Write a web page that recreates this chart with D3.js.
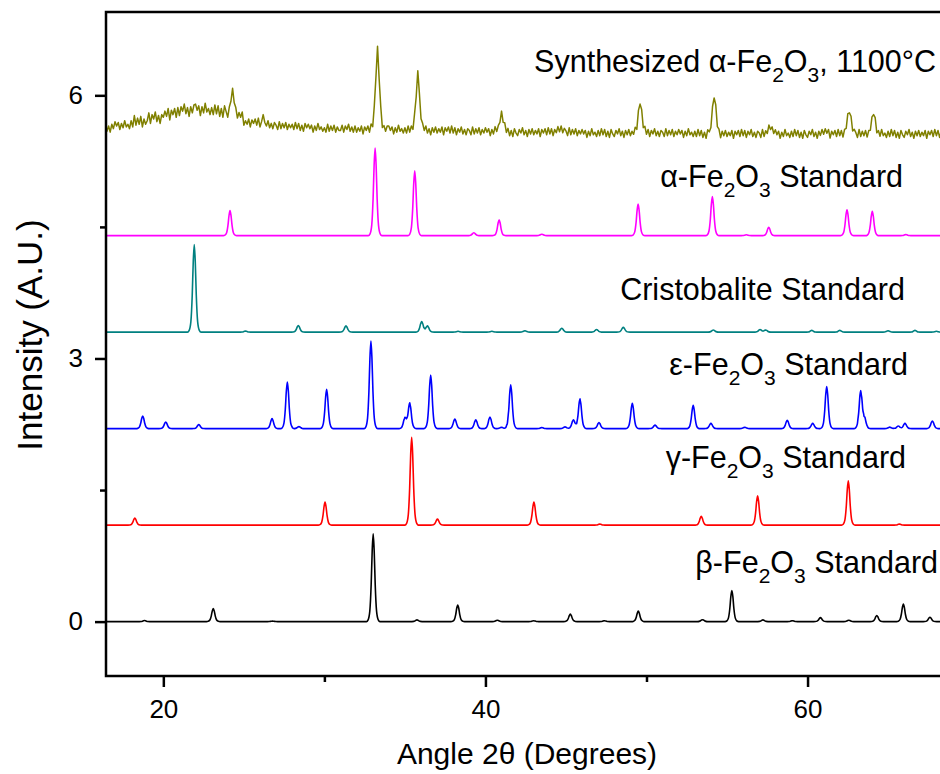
<!DOCTYPE html>
<html>
<head>
<meta charset="utf-8">
<script src="https://cdn.jsdelivr.net/npm/d3@7"></script>
<style>
    body { margin: 0; background: #fff; }
    svg { display: block; font-family: Arial, "Liberation Sans", sans-serif; }
</style>
</head>
<body>
<svg id="chart" width="940" height="774"></svg>
<script>
// axis ranges and ticks
const xDomain = [16.44, 70];
const yDomain = [-0.62, 6.95];
const xTicks = [20, 40, 60];
const xMinorTicks = [30, 50, 70];
const yTicks = [0, 3, 6];
const yMinorTicks = [1.5, 4.5];

// standard patterns: peak positions (2theta) and heights (A.U.) above the baseline
const betaBase = 0;
const betaPos = [18.83, 23.1, 26.78, 33.03, 35.75, 38.28, 40.74, 43.0, 45.27, 47.39, 49.49, 53.48, 55.3, 57.23, 59.06, 60.8, 62.56, 64.3, 65.95, 67.6];
const betaHeight = [0.012, 0.15, 0.006, 1.0, 0.02, 0.19, 0.015, 0.01, 0.085, 0.01, 0.12, 0.022, 0.355, 0.02, 0.01, 0.045, 0.015, 0.07, 0.2, 0.05];

const gammaBase = 1.1;
const gammaPos = [18.23, 30.04, 35.42, 37.02, 43.01, 47.1, 53.4, 56.9, 62.53, 65.7];
const gammaHeight = [0.08, 0.262, 1.0, 0.068, 0.262, 0.012, 0.1, 0.334, 0.505, 0.012];

const epsBase = 2.2;
const epsPos = [18.72, 20.15, 22.2, 26.75, 27.7, 28.42, 30.14, 32.89, 35.0, 35.3, 36.6, 38.1, 39.4, 40.28, 41.0, 41.57, 43.5, 44.94, 45.46, 45.87, 47.05, 49.12, 50.53, 52.9, 54.0, 56.1, 58.74, 60.32, 61.19, 63.3, 63.55, 65.1, 65.63, 66.05, 67.75];
const epsHeight = [0.145, 0.076, 0.046, 0.114, 0.532, 0.023, 0.448, 1.0, 0.12, 0.29, 0.61, 0.11, 0.1, 0.133, 0.015, 0.5, 0.012, 0.02, 0.1, 0.34, 0.07, 0.29, 0.04, 0.265, 0.06, 0.015, 0.095, 0.06, 0.48, 0.425, 0.1, 0.017, 0.03, 0.06, 0.088];

const cristoBase = 3.3;
const cristoPos = [21.92, 25.1, 28.38, 31.34, 36.04, 36.4, 38.3, 40.4, 42.45, 44.74, 46.9, 48.56, 54.15, 57.05, 57.4, 60.26, 62.0, 65.0, 66.67, 68.0];
const cristoHeight = [1.0, 0.012, 0.076, 0.072, 0.12, 0.07, 0.01, 0.01, 0.015, 0.045, 0.03, 0.055, 0.025, 0.03, 0.025, 0.02, 0.02, 0.015, 0.02, 0.01];

const alphaBase = 4.4;
const alphaPos = [24.14, 33.15, 35.61, 39.28, 40.85, 43.5, 49.48, 54.09, 56.2, 57.59, 62.45, 64.02, 66.1];
const alphaHeight = [0.285, 1.0, 0.74, 0.034, 0.18, 0.017, 0.36, 0.445, 0.01, 0.095, 0.296, 0.277, 0.012];

// synthesized sample: measured background every 0.1 deg from 16.0 (hundredths above 5), plus its peaks
const synthStart = 16.0;
const synthStep = 0.1;
const synthBackground = [
    66, 60, 68, 61, 67, 59, 65, 58, 67, 62,
    70, 65, 69, 61, 68, 63, 71, 64, 67, 62,
    71, 64, 77, 66, 74, 67, 76, 64, 73, 67,
    71, 80, 68, 78, 73, 81, 70, 77, 68, 78,
    75, 82, 76, 85, 72, 83, 78, 85, 75, 86,
    77, 87, 82, 90, 79, 86, 76, 87, 80, 89,
    90, 83, 88, 77, 87, 80, 91, 81, 85, 78,
    86, 78, 89, 79, 88, 76, 85, 75, 88, 81,
    73, 80, 76, 82, 74, 79, 72, 80, 75, 81,
    66, 71, 67, 73, 64, 72, 68, 73, 66, 74,
    64, 70, 78, 69, 65, 71, 63, 68, 62, 69,
    66, 61, 70, 62, 68, 63, 69, 61, 67, 63,
    67, 61, 69, 62, 68, 60, 66, 59, 68, 63,
    67, 62, 66, 58, 65, 60, 68, 61, 64, 59,
    63, 58, 67, 59, 65, 60, 66, 58, 64, 60,
    60, 66, 58, 65, 61, 67, 59, 64, 58, 65,
    58, 63, 59, 65, 56, 64, 60, 65, 58, 66,
    57, 64, 60, 66, 58, 63, 56, 64, 59, 65,
    65, 60, 64, 56, 63, 58, 66, 59, 62, 57,
    63, 57, 65, 58, 64, 56, 62, 55, 64, 59,
    56, 63, 59, 65, 57, 62, 55, 63, 58, 64,
    57, 62, 58, 64, 55, 63, 59, 64, 57, 65,
    57, 63, 55, 62, 58, 64, 56, 61, 55, 62,
    60, 55, 64, 56, 62, 57, 63, 55, 61, 57,
    63, 58, 62, 54, 61, 56, 64, 57, 60, 55,
    61, 55, 63, 56, 62, 54, 60, 53, 62, 57,
    54, 61, 57, 63, 55, 60, 53, 61, 56, 62,
    55, 60, 56, 62, 53, 61, 57, 62, 55, 63,
    56, 62, 54, 61, 57, 63, 55, 60, 54, 61,
    59, 54, 63, 55, 61, 56, 62, 54, 60, 56,
    61, 56, 60, 52, 59, 54, 62, 55, 58, 53,
    60, 54, 62, 55, 61, 53, 59, 52, 61, 56,
    53, 60, 56, 62, 54, 59, 52, 60, 55, 61,
    54, 59, 55, 61, 52, 60, 56, 61, 54, 62,
    55, 61, 53, 60, 56, 62, 54, 59, 53, 60,
    58, 53, 62, 54, 60, 55, 61, 53, 59, 55,
    61, 56, 60, 52, 59, 54, 62, 55, 58, 53,
    59, 53, 61, 54, 60, 52, 58, 51, 60, 55,
    52, 59, 55, 61, 53, 58, 51, 59, 54, 60,
    53, 58, 54, 60, 51, 59, 55, 60, 53, 61,
    54, 60, 52, 59, 55, 61, 53, 58, 52, 59,
    57, 52, 61, 53, 59, 54, 60, 52, 58, 54,
    60, 55, 59, 51, 58, 53, 61, 54, 57, 52,
    59, 53, 61, 54, 60, 52, 58, 51, 60, 55,
    52, 59, 55, 61, 53, 58, 51, 59, 54, 60,
    53, 58, 54, 60, 51, 59, 55, 60, 53, 61,
    54, 60, 52, 59, 55, 61, 53, 58, 52, 59,
    57, 52, 61, 53, 59, 54, 60, 52, 58, 54,
    60, 55, 59, 51, 58, 53, 61, 54, 57, 52,
    59, 53, 61, 54, 60, 52, 58, 51, 60, 55,
    52, 59, 55, 61, 53, 58, 51, 59, 54, 60,
    53, 58, 54, 60, 51, 59, 55, 60, 53, 61,
    54, 60, 52, 59, 55, 61, 53, 58, 52, 59,
];
const synthPos = [24.3, 33.3, 35.8, 41.0, 44.7, 49.6, 54.2, 57.7, 61.1, 62.6, 64.1];
const synthHeight = [0.26, 0.9, 0.64, 0.21, 0.05, 0.34, 0.42, 0.09, 0.04, 0.27, 0.23];

const svg = d3.select('#chart');
const plot = {left: 106, right: 968.6, top: 12, bottom: 676};

const x = d3.scaleLinear().domain(xDomain).range([plot.left, plot.right]);
const y = d3.scaleLinear().domain(yDomain).range([plot.bottom, plot.top]);

// peak profile used for every reflection (shape only, scaled by each peak)
const shapeT = [-1, -0.75, -0.5, -0.3, -0.15, 0, 0.15, 0.3, 0.5, 0.75, 1];
const shapeV = [0, 0.02, 0.12, 0.42, 0.8, 1, 0.8, 0.42, 0.12, 0.02, 0];
const profile = d3.scaleLinear().domain(shapeT).range(shapeV).clamp(true);

function peakSum(t, pos, hts, w) {
    let s = 0;
    pos.forEach((p, i) => {
        const u = (t - p) / w;
        if (Math.abs(u) < 1) s += hts[i] * profile(u);
    });
    return s;
}

function standardPoints(pos, hts, base, w) {
    let xs = [xDomain[0], xDomain[1]];
    pos.forEach((p) => shapeT.forEach((t) => xs.push(p + t * w)));
    xs = Array.from(new Set(xs.map((v) => +v.toFixed(4)))).sort((a, b) => a - b);
    return xs.map((t) => [t, base + peakSum(t, pos, hts, w)]);
}

function synthPoints() {
    return synthBackground.map((b, i) => {
        const t = synthStart + i * synthStep;
        return [t, 5 + b / 100 + peakSum(t, synthPos, synthHeight, 0.5)];
    });
}

svg.append('defs').append('clipPath').attr('id', 'plot-clip')
    .append('rect')
    .attr('x', plot.left)
    .attr('y', plot.top)
    .attr('width', plot.right - plot.left)
    .attr('height', plot.bottom - plot.top);

const line = d3.line()
    .x((d) => x(d[0]))
    .y((d) => y(d[1]))
    .curve(d3.curveMonotoneX);

const series = [
    {pts: standardPoints(betaPos, betaHeight, betaBase, 0.42), color: '#000000'},
    {pts: standardPoints(gammaPos, gammaHeight, gammaBase, 0.42), color: '#ff0000'},
    {pts: standardPoints(epsPos, epsHeight, epsBase, 0.42), color: '#0000ff'},
    {pts: standardPoints(cristoPos, cristoHeight, cristoBase, 0.42), color: '#008080'},
    {pts: standardPoints(alphaPos, alphaHeight, alphaBase, 0.42), color: '#ff00ff'},
];

const lines = svg.append('g').attr('clip-path', 'url(#plot-clip)');

series.forEach((s) => {
    lines.append('path')
        .attr('d', line(s.pts))
        .attr('fill', 'none')
        .attr('stroke', s.color)
        .attr('stroke-width', 1.6);
});

lines.append('path')
    .attr('d', d3.line().x((d) => x(d[0])).y((d) => y(d[1]))(synthPoints()))
    .attr('fill', 'none')
    .attr('stroke', '#808000')
    .attr('stroke-width', 1.5)
    .attr('stroke-linejoin', 'round');

// axes
function styleAxis(g) {
    g.attr('font-size', 26).attr('font-family', null);
    g.select('.domain').remove();
    g.selectAll('line').attr('stroke', '#000').attr('stroke-width', 2.5);
    g.selectAll('text').attr('fill', '#000');
}

svg.append('g')
    .attr('transform', `translate(0,${plot.bottom})`)
    .call(d3.axisBottom(x).tickValues(xTicks).tickSize(11).tickPadding(13).tickFormat(d3.format('d')))
    .call(styleAxis);

svg.append('g')
    .attr('transform', `translate(0,${plot.bottom})`)
    .call(d3.axisBottom(x).tickValues(xMinorTicks).tickSize(6).tickFormat(''))
    .call(styleAxis);

svg.append('g')
    .attr('transform', `translate(${plot.left},0)`)
    .call(d3.axisLeft(y).tickValues(yTicks).tickSize(11).tickPadding(12).tickFormat(d3.format('d')))
    .call(styleAxis);

svg.append('g')
    .attr('transform', `translate(${plot.left},0)`)
    .call(d3.axisLeft(y).tickValues(yMinorTicks).tickSize(6).tickFormat(''))
    .call(styleAxis);

// frame
svg.append('rect')
    .attr('x', plot.left)
    .attr('y', plot.top)
    .attr('width', plot.right - plot.left)
    .attr('height', plot.bottom - plot.top)
    .attr('fill', 'none')
    .attr('stroke', '#000')
    .attr('stroke-width', 2.5);

// axis titles
svg.append('text')
    .attr('x', 527)
    .attr('y', 764)
    .attr('text-anchor', 'middle')
    .attr('font-size', 30)
    .text('Angle 2θ (Degrees)');

svg.append('text')
    .attr('transform', 'translate(42,335) rotate(-90)')
    .attr('text-anchor', 'middle')
    .attr('font-size', 35)
    .text('Intensity (A.U.)');

// pattern labels: [text, isSubscript]
const labels = [
    {x: 936, y: 72, parts: [['Synthesized α-Fe'], ['2', 1], ['O'], ['3', 1], [', 1100°C']]},
    {x: 903, y: 187, parts: [['α-Fe'], ['2', 1], ['O'], ['3', 1], [' Standard']]},
    {x: 905, y: 300, parts: [['Cristobalite Standard']]},
    {x: 908, y: 375, parts: [['ε-Fe'], ['2', 1], ['O'], ['3', 1], [' Standard']]},
    {x: 906, y: 468, parts: [['γ-Fe'], ['2', 1], ['O'], ['3', 1], [' Standard']]},
    {x: 938, y: 573, parts: [['β-Fe'], ['2', 1], ['O'], ['3', 1], [' Standard']]},
];

labels.forEach((lab) => {
    const t = svg.append('text')
        .attr('x', lab.x)
        .attr('y', lab.y)
        .attr('text-anchor', 'end')
        .attr('font-size', 30.5);
    let shifted = false;
    lab.parts.forEach((p) => {
        const ts = t.append('tspan').text(p[0]);
        if (p[1]) {
            ts.attr('font-size', 21);
            if (!shifted) ts.attr('dy', 10);
            shifted = true;
        } else if (shifted) {
            ts.attr('dy', -10);
            shifted = false;
        }
    });
});
</script>
</body>
</html>
